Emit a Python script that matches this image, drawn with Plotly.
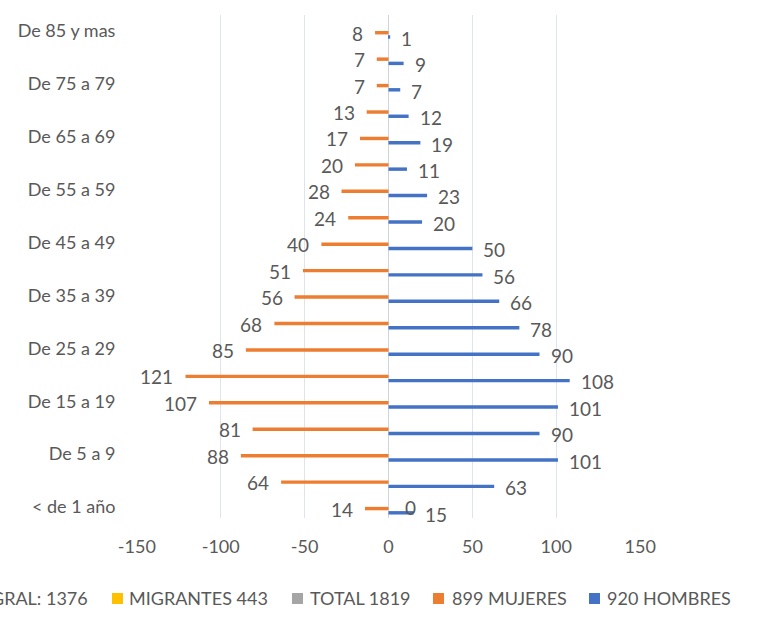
import plotly.graph_objects as go

# grupos de edad, de abajo hacia arriba
grupos = ['< de 1 año', 'De 1 a 4', 'De 5 a 9', 'De 10 a 14', 'De 15 a 19',
          'De 20 a 24', 'De 25 a 29', 'De 30 a 34', 'De 35 a 39', 'De 40 a 44',
          'De 45 a 49', 'De 50 a 54', 'De 55 a 59', 'De 60 a 64', 'De 65 a 69',
          'De 70 a 74', 'De 75 a 79', 'De 80 a 84', 'De 85 y mas']
mujeres = [14, 64, 88, 81, 107, 121, 85, 68, 56, 51, 40, 24, 28, 20, 17, 13, 7, 7, 8]
hombres = [15, 63, 101, 90, 101, 108, 90, 78, 66, 56, 50, 20, 23, 11, 19, 12, 7, 9, 1]
etiqueta_cero = 0
ticks_x = [-150, -100, -50, 0, 50, 100, 150]

leyenda = ['GRAL: 1376', 'MIGRANTES 443', 'TOTAL 1819', '899 MUJERES', '920 HOMBRES']
colores_leyenda = [None, '#FFC000', '#A5A5A5', '#ED7D31', '#4472C4']

FONT = 'Lato'
GRIS = '#595959'
pos = list(range(len(grupos)))

fig = go.Figure()

# Mujeres (lado negativo)
fig.add_trace(go.Bar(
    y=pos, x=[-v for v in mujeres], orientation='h',
    offset=-0.125, width=0.13,
    marker=dict(color='#ED7D31', line=dict(width=0)),
    name='899 MUJERES', showlegend=False
))

# Hombres
fig.add_trace(go.Bar(
    y=pos, x=hombres, orientation='h',
    offset=-0.285, width=0.13,
    marker=dict(color='#4472C4', line=dict(width=0)),
    name='920 HOMBRES', showlegend=False
))

anotaciones = []
for i, (m, h) in enumerate(zip(mujeres, hombres)):
    anotaciones.append(dict(x=-m, y=i - 0.08, xref='x', yref='y', text=str(m),
                            showarrow=False, xanchor='right', xshift=-10,
                            font=dict(family=FONT, size=19, color=GRIS)))
    anotaciones.append(dict(x=h, y=i - 0.27, xref='x', yref='y', text=str(h),
                            showarrow=False, xanchor='left', xshift=9,
                            font=dict(family=FONT, size=19, color=GRIS)))
anotaciones.append(dict(x=13, y=0.0, xref='x', yref='y', text=str(etiqueta_cero),
                        showarrow=False, xanchor='center',
                        font=dict(family=FONT, size=19, color=GRIS)))

# leyenda inferior (recortada a la izquierda como en el original)
# coordenadas en px -> coordenadas paper (área de trazado 136..641 x 15..518)
def px_x(p):
    return (p - 136) / 505

def px_y(p):
    return (518 - p) / 503

texto_x = [90, 127, 308, 450, 605]
cuadro_x = [None, 112, 292, 433, 589]
formas = []
for txt, tx, cx, col in zip(leyenda, texto_x, cuadro_x, colores_leyenda):
    anotaciones.append(dict(x=px_x(tx), y=px_y(598), xref='paper', yref='paper',
                            text=txt, showarrow=False,
                            xanchor='right' if col is None else 'left', yanchor='middle',
                            font=dict(family=FONT, size=18, color=GRIS)))
    if col is not None:
        formas.append(dict(type='rect', xref='paper', yref='paper',
                           x0=px_x(cx), x1=px_x(cx + 11), y0=px_y(604), y1=px_y(593),
                           fillcolor=col, line=dict(width=0)))

fig.update_layout(
    template='none',
    width=779, height=627,
    margin=dict(l=136, r=138, t=15, b=109, autoexpand=False),
    paper_bgcolor='white', plot_bgcolor='white',
    barmode='overlay',
    annotations=anotaciones,
    shapes=formas,
    font=dict(family=FONT, size=18, color=GRIS),
    xaxis=dict(range=[-150.5, 150.5], tickvals=ticks_x, ticktext=[str(t) for t in ticks_x],
               automargin=False, showline=False,
               showgrid=True, gridcolor='#DFE3EA', gridwidth=1,
               zeroline=True, zerolinecolor='#D0D4DC', zerolinewidth=1,
               ticks='outside', ticklen=12, tickcolor='rgba(0,0,0,0)',
               tickfont=dict(family=FONT, size=18, color=GRIS)),
    yaxis=dict(range=[-0.416, 18.61], tickvals=pos[::2], ticktext=grupos[::2],
               automargin=False, showline=False,
               showgrid=False, zeroline=False,
               ticks='outside', ticklen=16, tickcolor='rgba(0,0,0,0)',
               tickfont=dict(family=FONT, size=18, color=GRIS)),
)

# sin margen en el body para que la figura ocupe toda la ventana
fig.write_html('out.html', config={'displayModeBar': False},
               post_script="document.body.style.margin='0';")
